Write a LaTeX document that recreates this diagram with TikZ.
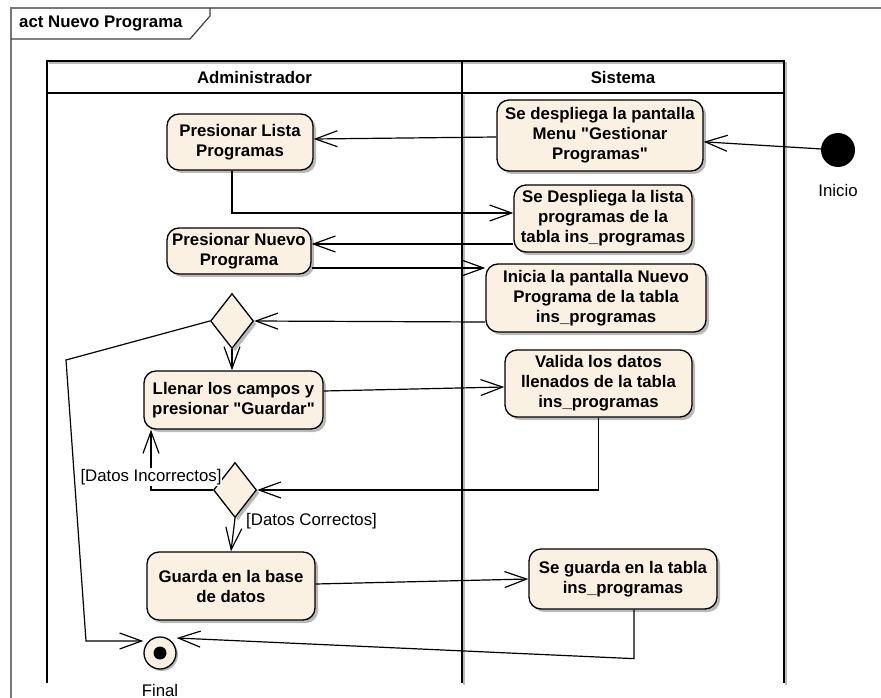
\documentclass[tikz,border=0pt]{standalone}
\usepackage{fontspec}
\setmainfont{Liberation Sans}[Ligatures=TeXOff]
\usetikzlibrary{shapes.geometric,arrows.meta,shadows,calc}
\definecolor{actfill}{RGB}{251,241,226}
\definecolor{shad}{RGB}{185,185,185}
\definecolor{framegray}{RGB}{120,120,120}
\newcommand{\dfont}{\fontsize{16.8}{20}\selectfont}
\tikzset{
  actbox/.style={draw=black, line width=1.3pt, fill=actfill, rounded corners=12pt,
    align=center, font=\bfseries\dfont, inner sep=0pt,
    general shadow={fill=shad, shadow xshift=3pt, shadow yshift=-3pt}},
  decbox/.style={diamond, draw=black, line width=1.3pt, fill=actfill, inner sep=0pt,
    minimum width=43pt, minimum height=55pt,
    general shadow={fill=shad, shadow xshift=3pt, shadow yshift=-3pt}},
  flow/.style={line width=1.2pt, -{Straight Barb[length=22pt,width=16pt]}},
  lane/.style={line width=2pt, black},
  laneshadow/.style={line width=2pt, shad},
  plain/.style={font=\dfont, inner sep=1pt},
  hdr/.style={font=\bfseries\dfont, inner sep=0pt}
}
\begin{document}
\begin{tikzpicture}[x=1pt,y=-1pt]
\useasboundingbox (0,0) rectangle (881,698);
% outer frame
\draw[framegray, line width=1.2pt] (11,698) -- (11,8) -- (881,8);
\draw[black!75, line width=1.2pt] (11,39) -- (190,39) -- (210,16) -- (210,8);
\node[hdr, anchor=west] (ftitle) at (19,24) {act Nuevo Programa};
% swimlanes
\draw[laneshadow] (49,63) -- (786,63) -- (786,685);
\draw[laneshadow] (464,95) -- (464,685);
\draw[lane] (47,683) -- (47,61) -- (784,61) -- (784,683);
\draw[lane] (47,93) -- (784,93);
\draw[lane] (462,61) -- (462,683);
\node[hdr] (hadm) at (254.5,77) {Administrador};
\node[hdr] (hsis) at (623,77) {Sistema};
% activities - Sistema
\node[actbox, minimum width=206pt, minimum height=71pt] (menu) at (600,135.5)
  {Se despliega la pantalla\\Menu "Gestionar\\Programas"};
\node[actbox, minimum width=178pt, minimum height=67pt] (lista) at (603,218.5)
  {Se Despliega la lista\\programas de la\\tabla ins\_programas};
\node[actbox, minimum width=220pt, minimum height=68pt] (inicia) at (596,298)
  {Inicia la pantalla Nuevo\\Programa de la tabla\\ins\_programas};
\node[actbox, minimum width=187pt, minimum height=67pt] (valida) at (598.5,383.5)
  {Valida los datos\\llenados de la tabla\\ins\_programas};
\node[actbox, minimum width=188pt, minimum height=60pt] (seguarda) at (623,579)
  {Se guarda en la tabla\\ins\_programas};
% activities - Administrador
\node[actbox, minimum width=146pt, minimum height=56pt] (plista) at (240,142)
  {Presionar Lista\\Programas};
\node[actbox, minimum width=144pt, minimum height=46pt] (pnuevo) at (239,251)
  {Presionar Nuevo\\Programa};
\node[actbox, minimum width=179pt, minimum height=58pt] (llenar) at (233.5,400)
  {Llenar los campos y\\presionar "Guardar"};
\node[actbox, minimum width=168pt, minimum height=68pt] (guarda) at (231,586)
  {Guarda en la base\\de datos};
% decisions
\node[decbox] (d1) at (232,321) {};
\node[decbox] (d2) at (235,490) {};
% initial and final
\node[circle, fill=black, minimum size=34pt, inner sep=0pt] (init) at (838,150) {};
\node[plain] (linit) at (838,190) {Inicio};
\node[circle, draw=black, line width=1.3pt, fill=actfill, minimum size=32pt, inner sep=0pt,
  general shadow={fill=shad, shadow xshift=2pt, shadow yshift=-2pt}] (fin) at (160,653) {};
\node[circle, fill=black, minimum size=13pt, inner sep=0pt] (findot) at (fin.center) {};
\node[plain] (lfin) at (160,690) {Final};
% connectors
\draw[flow] (init) -- (menu);
\draw[flow] ([yshift=-1.5pt]menu.west) -- ([yshift=3pt]plista.east);
\draw[flow] ([xshift=-8pt]plista.south) |- ([yshift=5.5pt]lista.west);
\draw[flow] ([yshift=-25.5pt]lista.west) -- ([yshift=7pt]pnuevo.east);
\draw[flow] ([yshift=-17pt]pnuevo.east) -- ([yshift=30pt]inicia.west);
\draw[flow] ([yshift=-24pt]inicia.west) -- (d1.east);
\draw[flow] (d1.south) -- (d1.south |- llenar.north);
\coordinate (lp1) at (66,360);
\coordinate (lp2) at (86,641);
\draw[flow] (d1.west) -- (lp1) -- (lp2) -- (lp2 -| fin.west);
\draw[flow] ([yshift=9pt]llenar.east) -- ([yshift=-3.5pt]valida.west);
\draw[flow] (valida.south) |- (d2.east);
\draw[flow] (d2.west) -| ([xshift=-82.5pt]llenar.south);
\node[plain, fill=white] (lincorr) at (151,477) {[Datos Incorrectos]};
\draw[flow] (d2.south) -- (guarda.north);
\node[plain, anchor=west] (lcorr) at (245,521) {[Datos Correctos]};
\draw[flow] ([yshift=2pt]guarda.east) -- (seguarda.west);
\coordinate (sg1) at ($(seguarda.south)+(11,49)$);
\draw[flow] ([xshift=11pt]seguarda.south) -- (sg1) -- ([yshift=15pt]fin.east);
\end{tikzpicture}
\end{document}
